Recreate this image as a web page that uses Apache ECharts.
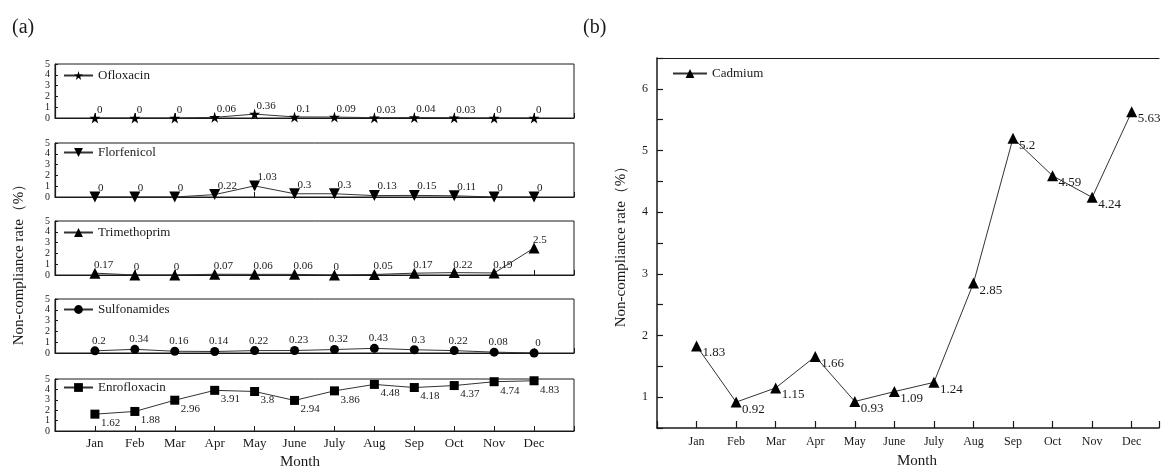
<!DOCTYPE html>
<html>
<head>
<meta charset="utf-8">
<script src="https://cdn.jsdelivr.net/npm/echarts@6/dist/echarts.min.js"></script>
<style>
  html, body { margin: 0; padding: 0; background: #fff; }
  #chart { width: 1162px; height: 468px; }
</style>
</head>
<body>
<div id="chart"></div>
<script>
// Month names shared by both panels
const months = ['Jan', 'Feb', 'Mar', 'Apr', 'May', 'June', 'July', 'Aug', 'Sep', 'Oct', 'Nov', 'Dec'];

// Panel (a): monthly non-compliance rates (%) of veterinary drugs
const ofloxacin    = [0, 0, 0, 0.06, 0.36, 0.1, 0.09, 0.03, 0.04, 0.03, 0, 0];
const florfenicol  = [0, 0, 0, 0.22, 1.03, 0.3, 0.3, 0.13, 0.15, 0.11, 0, 0];
const trimethoprim = [0.17, 0, 0, 0.07, 0.06, 0.06, 0, 0.05, 0.17, 0.22, 0.19, 2.5];
const sulfonamides = [0.2, 0.34, 0.16, 0.14, 0.22, 0.23, 0.32, 0.43, 0.3, 0.22, 0.08, 0];
const enrofloxacin = [1.62, 1.88, 2.96, 3.91, 3.8, 2.94, 3.86, 4.48, 4.18, 4.37, 4.74, 4.83];

// Panel (b): monthly non-compliance rate (%) of cadmium
const cadmium = [1.83, 0.92, 1.15, 1.66, 0.93, 1.09, 1.24, 2.85, 5.2, 4.59, 4.24, 5.63];

// Tick labels
const yTicksA = [0, 1, 2, 3, 4, 5];
const yTicksB = [1, 2, 3, 4, 5, 6];

const SERIF = 'Liberation Serif';
const INK = '#1a1a1a';
const STAR = 'path://M50,0 L61,35 L98,35 L68,57 L79,91 L50,70 L21,91 L32,57 L2,35 L39,35 Z';

const monthLabel = v => (Number.isInteger(v) && v >= 1 && v <= 12) ? months[v - 1] : '';
const toPoints = arr => arr.map((v, i) => [i + 1, v]);

// Stacked sub-panels of (a)
const panelsA = [
  { name: 'Ofloxacin',    data: ofloxacin,    symbol: STAR,       size: 11, rotate: 0,   top: 64,  h: 54, off: [2, -8],  align: 'left',   legendY: 76 },
  { name: 'Florfenicol',  data: florfenicol,  symbol: 'triangle', size: 11, rotate: 180, top: 143, h: 54, off: [3, -9],  align: 'left',   legendY: 153 },
  { name: 'Trimethoprim', data: trimethoprim, symbol: 'triangle', size: 11, rotate: 0,   top: 221, h: 54, off: [-1, -8], align: 'left',   legendY: 233 },
  { name: 'Sulfonamides', data: sulfonamides, symbol: 'circle',   size: 9,  rotate: 0,   top: 299, h: 54, off: [4, -10], align: 'center', legendY: 310 },
  { name: 'Enrofloxacin', data: enrofloxacin, symbol: 'rect',     size: 9,  rotate: 0,   top: 379, h: 52, off: [6, 9],   align: 'left',   legendY: 388 }
];

const grid = [], xAxis = [], yAxis = [], series = [], legend = [];

panelsA.forEach((p, i) => {
  const last = i === panelsA.length - 1;
  grid.push({ left: 55, width: 519, top: p.top, height: p.h, show: true, borderColor: INK, borderWidth: 1, backgroundColor: 'transparent' });
  xAxis.push({
    type: 'value', gridIndex: i, min: 0, max: 13, interval: 1,
    axisLine: { show: true, lineStyle: { color: INK, width: 1.2 } },
    axisTick: { show: true, inside: true, length: 5, lineStyle: { color: INK } },
    axisLabel: { show: last, formatter: monthLabel, color: INK, fontFamily: SERIF, fontSize: 13, margin: 6 },
    splitLine: { show: false }
  });
  yAxis.push({
    type: 'value', gridIndex: i, min: 0, max: 5, interval: 1,
    axisLine: { show: true, lineStyle: { color: INK, width: 1.2 } },
    axisTick: { show: true, inside: true, length: 3, lineStyle: { color: INK } },
    axisLabel: { color: INK, fontFamily: SERIF, fontSize: 10, margin: 5, lineHeight: 9,
                 showMinLabel: true, showMaxLabel: true, hideOverlap: false,
                 formatter: v => yTicksA.includes(v) ? String(v) : '' },
    splitLine: { show: false }
  });
  series.push({
    name: p.name, type: 'line', xAxisIndex: i, yAxisIndex: i,
    data: toPoints(p.data),
    symbol: p.symbol, symbolSize: p.size, symbolRotate: p.rotate,
    lineStyle: { color: '#333', width: 1 },
    itemStyle: { color: '#000' },
    label: {
      show: true, position: 'inside', offset: p.off, align: p.align, verticalAlign: 'middle',
      formatter: d => String(d.value[1]), color: INK, fontFamily: SERIF, fontSize: 11
    },
    animation: false
  });
  legend.push({
    data: [p.name], left: 63, top: p.legendY - 7, padding: 0, itemWidth: 29, itemHeight: 11,
    textStyle: { color: INK, fontFamily: SERIF, fontSize: 13 }
  });
});

// Panel (b): the plot area runs past the right edge, so only the left, bottom and top frame lines show
const gb = panelsA.length;
const xMaxB = 12.69;
grid.push({ left: 657, right: 0, top: 58, height: 370, show: false });
xAxis.push({
  type: 'value', gridIndex: gb, min: 0, max: xMaxB, interval: 1,
  axisLine: { show: true, lineStyle: { color: INK, width: 1.5 } },
  axisTick: { show: true, inside: true, length: 7, lineStyle: { color: INK, width: 1.2 } },
  axisLabel: { formatter: monthLabel, color: INK, fontFamily: SERIF, fontSize: 12, margin: 8 },
  splitLine: { show: false }
});
// top frame line
xAxis.push({
  type: 'value', gridIndex: gb, position: 'top', min: 0, max: xMaxB,
  axisLine: { show: true, onZero: false, lineStyle: { color: INK, width: 1.2 } },
  axisTick: { show: false }, axisLabel: { show: false }, splitLine: { show: false }
});
yAxis.push({
  type: 'value', gridIndex: gb, min: 0.5, max: 6.5, interval: 0.5,
  name: 'Non-compliance rate（%）', nameLocation: 'middle', nameGap: 28, nameRotate: 90,
  nameTextStyle: { color: INK, fontFamily: SERIF, fontSize: 15 },
  axisLine: { show: true, lineStyle: { color: INK, width: 1.5 } },
  axisTick: { show: true, inside: true, length: 6, lineStyle: { color: INK, width: 1.2 } },
  axisLabel: { color: INK, fontFamily: SERIF, fontSize: 12, margin: 9,
               formatter: v => yTicksB.includes(v) ? String(v) : '' },
  splitLine: { show: false }
});
series.push({
  name: 'Cadmium', type: 'line', xAxisIndex: gb, yAxisIndex: gb,
  data: toPoints(cadmium),
  symbol: 'triangle', symbolSize: 11,
  lineStyle: { color: '#333', width: 1 },
  itemStyle: { color: '#000' },
  label: {
    show: true, position: 'inside', offset: [6, 7], align: 'left', verticalAlign: 'middle',
    formatter: d => String(d.value[1]), color: INK, fontFamily: SERIF, fontSize: 13
  },
  animation: false
});
legend.push({
  data: ['Cadmium'], left: 672, top: 67, padding: 0, itemWidth: 34, itemHeight: 11,
  textStyle: { color: INK, fontFamily: SERIF, fontSize: 13 }
});

const chart = echarts.init(document.getElementById('chart'), null, { renderer: 'canvas' });
chart.setOption({
  backgroundColor: '#fff',
  animation: false,
  grid, xAxis, yAxis, series, legend,
  graphic: [
    { type: 'text', left: 12, top: 18, style: { text: '(a)', font: '20px "' + SERIF + '"', fill: INK } },
    { type: 'text', left: 583, top: 18, style: { text: '(b)', font: '20px "' + SERIF + '"', fill: INK } },
    { type: 'text', x: 19, y: 261, rotation: Math.PI / 2,
      style: { text: 'Non-compliance rate（%）', font: '15px "' + SERIF + '"', fill: INK, align: 'center', verticalAlign: 'middle' } },
    { type: 'text', x: 300, y: 462,
      style: { text: 'Month', font: '15px "' + SERIF + '"', fill: INK, align: 'center', verticalAlign: 'middle' } },
    { type: 'text', x: 917, y: 461,
      style: { text: 'Month', font: '15px "' + SERIF + '"', fill: INK, align: 'center', verticalAlign: 'middle' } }
  ]
});
</script>
</body>
</html>
